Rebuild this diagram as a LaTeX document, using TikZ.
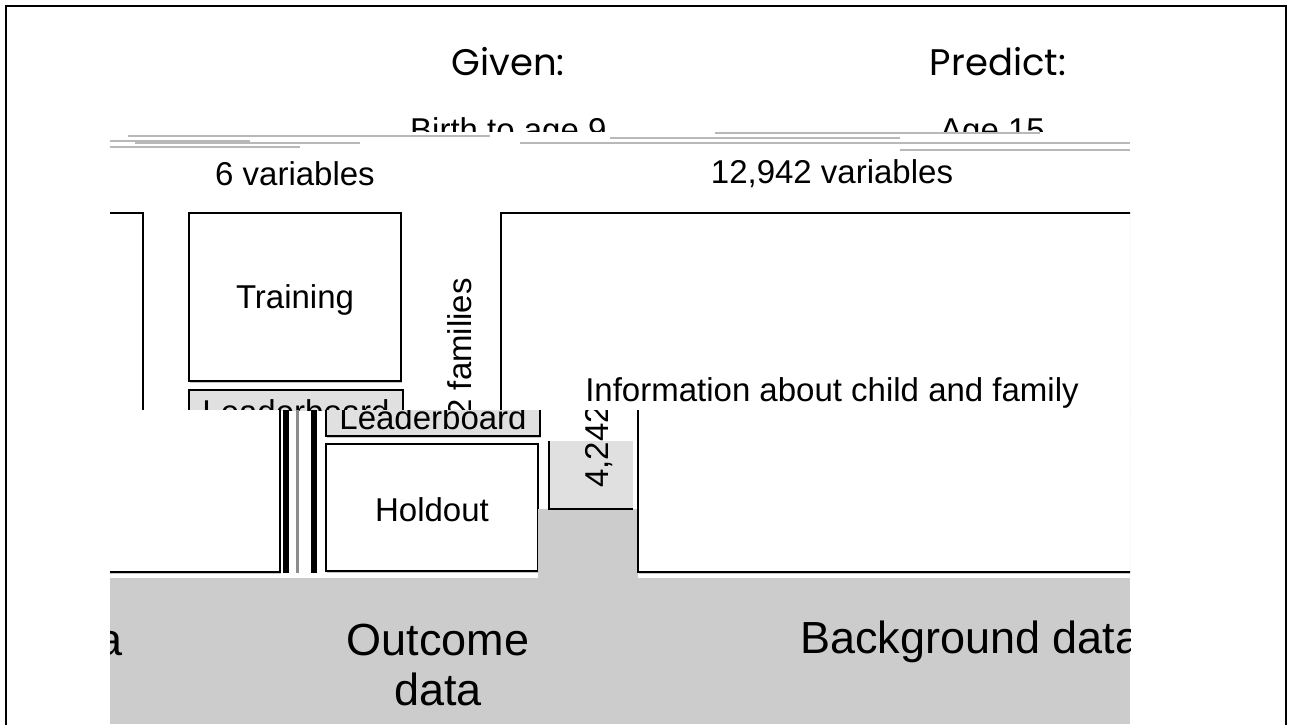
\documentclass[tikz,border=0pt]{standalone}
\usepackage{fontspec}
\setmainfont{Liberation Sans}
\newfontfamily\headfont{Poppins}
\usetikzlibrary{shadows}
\definecolor{bandgray}{HTML}{CCCCCC}
\definecolor{boardgray}{HTML}{E0E0E0}
\tikzset{
  panel/.style={draw=black, line width=1.3pt, fill=white,
    drop shadow={shadow xshift=0.8pt, shadow yshift=-1.8pt, opacity=0.45}},
  lbl/.style={font=\fontsize{33}{38}\selectfont, inner sep=0pt},
  big/.style={font=\fontsize{45}{50}\selectfont, inner sep=0pt},
  head/.style={font=\headfont\fontsize{37}{42}\selectfont, inner sep=0pt},
  scan/.style={draw=black!28, line width=1.1pt},
}

% The panels of the data table; #1 keeps the node names of each copy apart
\newcommand\datapanels[1]{%
  % left column (mostly out of view)
  \path[panel] (-300,213) -- (143,213) -- (143,566) -- (-300,566);
  % outcome column
  \path[panel] (189,213) rectangle (401,381);
  \node[lbl] (train#1) at (295,300) {Training};
  \path[panel, fill=boardgray] (189,390) rectangle (403,430);
  \node[lbl] (board#1) at (296,412) {Leaderboard};
  \path[panel] (189,438) rectangle (401,565);
  \node[lbl] (hold#1) at (295,504) {Holdout};
  % strip between the outcome and background columns
  \fill[bandgray] (401,503) rectangle (501,620);
  \fill[boardgray] (412,435) rectangle (496,503);
  \draw[line width=1.3pt] (412,435) -- (412,503) -- (496,503);
  \node[lbl, rotate=90] (fam#1) at (462,380) {4,242 families};
  % background column
  \path[panel] (1500,213) -- (501,213) -- (501,566) -- (1500,566);
}

\begin{document}
\begin{tikzpicture}[x=1pt, y=-1pt]
  \useasboundingbox (0,0) rectangle (1293,724);
  \fill[white] (0,0) rectangle (1293,724);

  % outer frame
  \draw[line width=2pt] (6,730) -- (6,6) -- (1286,6) -- (1286,730);

  % headings
  \node[head] (given) at (508,62) {Given:};
  \node[head] (predict) at (998,62) {Predict:};

  % time labels, cut by the scan lines
  \begin{scope}
    \clip (110,100) rectangle (1130,131);
    \node[lbl, anchor=base west] (birth) at (410,141) {Birth to age 9};
    \node[lbl, anchor=base west] (agefifteen) at (940,141) {Age 15};
  \end{scope}
  \draw[scan] (128,136) -- (490,136);
  \draw[scan] (110,141) -- (250,141);
  \draw[scan] (135,143) -- (360,143);
  \draw[scan] (110,147) -- (300,147);
  \draw[scan] (715,133) -- (1040,133);
  \draw[scan, line width=1.6pt] (520,143) -- (1130,143);
  \draw[scan] (900,150) -- (1130,150);
  \draw[scan] (610,138) -- (900,138);

  % column sizes
  \node[lbl] (sixvars) at (295,174) {6 variables};
  \node[lbl] (manyvars) at (832,174) {12,942 variables};

  % upper band of the table
  \begin{scope}
    \clip (110,150) rectangle (1130,410);
    \datapanels{u}
    \node[lbl] (info) at (832,393) {Information about child and family};
  \end{scope}

  % lower band of the table, displaced to the right
  \begin{scope}
    \clip (110,410) rectangle (1130,578);
    \begin{scope}[shift={(137,6)}]
      \datapanels{l}
    \end{scope}
  \end{scope}
  \fill[black] (283,410) rectangle (289,573);
  \fill[black!45] (296,410) rectangle (299,573);
  \fill[black] (311,410) rectangle (317,573);

  % bottom band with the column captions
  \fill[bandgray] (110,578) rectangle (1130,724);
  \begin{scope}
    \clip (110,578) rectangle (1130,724);
    \node[big, anchor=base east] (leftcap) at (123,655) {data};
    \node[big, anchor=base] (outcome) at (438,655) {Outcome};
    \node[big, anchor=base] (outdata) at (438,705) {data};
    \node[big, anchor=base west] (background) at (800,653) {Background data};
  \end{scope}
\end{tikzpicture}
\end{document}
